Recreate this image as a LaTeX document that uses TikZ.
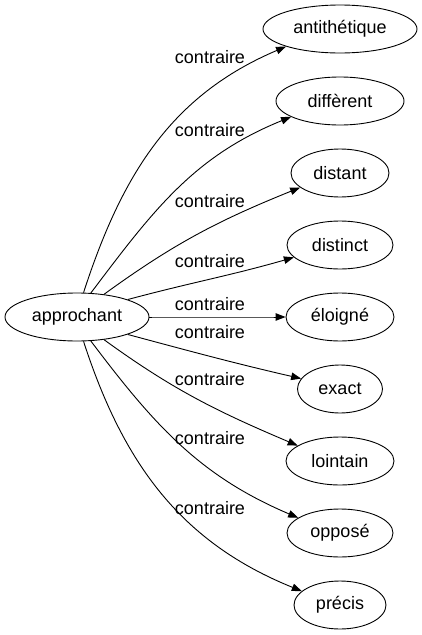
\documentclass[tikz,border=0pt]{standalone}
\usepackage{fontspec}
\setmainfont{Liberation Sans}
\usetikzlibrary{arrows.meta,shapes.geometric,positioning}

\begin{document}
\begin{tikzpicture}[x=1pt, y=1pt, line join=round,
  word/.style={draw, ellipse, minimum height=48pt, inner sep=0pt, line width=0.9pt, font=\fontsize{18}{21}\selectfont},
  rel/.style={inner sep=0pt, font=\fontsize{18}{21}\selectfont},
  link/.style={-{Triangle[length=10pt,width=7.5pt]}, line width=0.9pt}]
\useasboundingbox (0,0) rectangle (422,-635);
\node[word, minimum width=144pt] (approchant) at (77,-317) {approchant};
% name/text/y/width/start anchor/out/end anchor/in/label y
\foreach \name/\txt/\y/\w/\sa/\so/\ta/\ti/\ly in {
  antithetique/antithétique/29/154/75/72/198/203/57,
  different/diffèrent/101/128/60/53/198/202/130,
  distant/distant/173/98/40/36/200/202/201,
  distinct/distinct/245/106/19/15/195/196/261,
  eloigne/éloigné/317/108/0/0/180/180/304,
  exact/exact/389/85/341/345/165/167/332,
  lointain/lointain/461/108/320/324/160/157/379,
  oppose/opposé/533/106/300/307/160/157/438,
  precis/précis/605/92/285/288/160/158/508}
{
\node[word, minimum width=\w pt] (\name) at (340,-\y) {\txt};
\node[rel] (l-\name) at (210,-\ly) {contraire};
\draw[link] (approchant.\sa) to[out=\so, in=\ti] (\name.\ta);
}
\end{tikzpicture}
\end{document}
